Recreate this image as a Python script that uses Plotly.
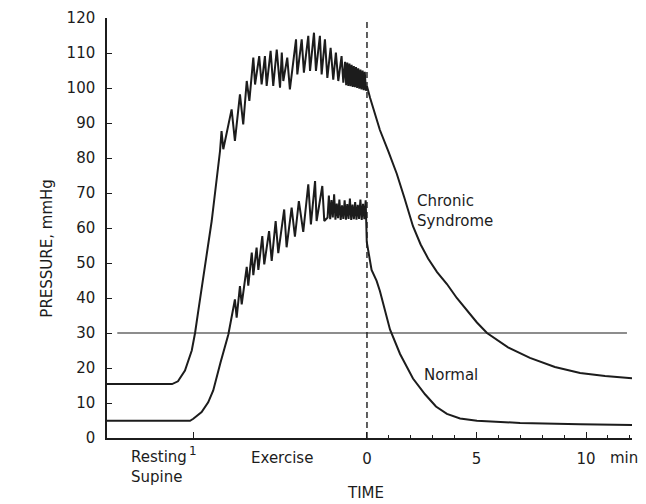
import plotly.graph_objects as go

# ---------------- data (minutes relative to end of exercise, mmHg) ----------------
chronic_t = [-11.87, -8.90, -8.63, -8.31, -8.00, -7.85, -7.70, -7.09, -6.71,
             -6.64, -6.56, -6.18, -6.03, -5.80, -5.65, -5.49, -5.37, -5.19, -5.11,
             -4.92, -4.81, -4.66, -4.58, -4.40, -4.28, -4.12, -3.97, -3.89, -3.82,
             -3.64, -3.52, -3.24, -3.18, -2.98, -2.88, -2.68, -2.60, -2.42, -2.33,
             -2.15, -2.07, -1.92, -1.81, -1.66, -1.54, -1.42, -1.31, -1.16, -1.08,
             -1.00, -0.95, -0.90, -0.85, -0.80, -0.75, -0.70, -0.65, -0.60, -0.55,
             -0.50, -0.45, -0.40, -0.35, -0.30, -0.25, -0.20, -0.15, -0.10, -0.05,
             0.00, 0.14, 0.29, 0.59, 0.98, 1.36, 1.70, 1.96, 2.10, 2.45, 2.79, 3.20,
             3.65, 4.10, 4.57, 5.02, 5.48, 6.44, 7.44, 8.58, 9.73, 10.87, 12.10]
chronic_p = [15.4, 15.4, 16.2, 19.3, 25.0, 30.0, 36.4, 62.0, 82.0,
             87.7, 82.5, 93.9, 84.9, 98.2, 89.6, 102.0, 96.3, 108.7, 101.0,
             109.1, 101.0, 109.1, 100.6, 110.6, 100.6, 111.0, 100.1, 110.1, 102.0,
             108.7, 99.6, 113.9, 103.9, 113.9, 104.4, 114.9, 104.9, 115.8, 104.9,
             114.9, 103.9, 113.9, 102.9, 111.5, 102.4, 110.1, 102.0, 109.1, 101.5,
             107.5, 100.8, 107.3, 100.6, 107.0, 100.5, 106.6, 100.3, 106.3, 100.2,
             106.0, 100.0, 105.6, 99.8, 105.3, 99.6, 105.0, 99.4, 104.6, 99.2,
             100.5, 97.2, 93.9, 88.0, 81.8, 75.5, 68.8, 63.5, 60.5, 55.3, 51.3, 47.4,
             44.0, 40.0, 36.3, 33.0, 30.0, 25.9, 22.9, 20.3, 18.6, 17.7, 17.1]

normal_t = [-11.87, -8.08, -7.93, -7.55, -7.25, -7.02, -6.69, -6.33, -6.10,
            -6.03, -5.95, -5.80, -5.72, -5.49, -5.42, -5.26, -5.19, -5.04, -4.96,
            -4.78, -4.69, -4.47, -4.35, -4.17, -4.05, -3.78, -3.67, -3.44, -3.29,
            -3.11, -2.91, -2.68, -2.56, -2.37, -2.30, -2.04, -1.95,
            -1.80, -1.74, -1.68, -1.62, -1.56, -1.50, -1.44, -1.38, -1.32, -1.26,
            -1.20, -1.14, -1.08, -1.02, -0.96, -0.90, -0.84, -0.78, -0.72, -0.66,
            -0.60, -0.54, -0.48, -0.42, -0.36, -0.30, -0.24, -0.18, -0.12, -0.06,
            -0.01, 0.21, 0.44, 0.59, 1.05, 1.51, 2.10, 2.65, 3.15, 3.65, 4.25,
            5.02, 6.99, 9.73, 12.10]
normal_p = [4.9, 4.9, 5.5, 7.4, 10.2, 13.6, 21.5, 29.6, 37.2,
            39.6, 34.4, 43.4, 38.2, 48.9, 43.5, 53.0, 46.5, 54.4, 48.0,
            57.7, 49.6, 59.1, 50.6, 62.0, 52.8, 65.3, 54.5, 65.8, 57.5,
            67.7, 58.9, 72.5, 61.0, 73.4, 62.0, 72.0, 62.0,
            63.0, 69.3, 62.5, 68.0, 63.0, 69.6, 62.4, 67.0, 62.8, 68.1,
            62.3, 66.5, 62.6, 67.9, 62.4, 66.8, 62.6, 68.4, 62.3, 66.7,
            62.5, 67.4, 62.4, 66.6, 62.6, 68.1, 62.3, 66.9, 62.5, 67.9,
            56.0, 48.0, 44.9, 42.0, 31.0, 24.0, 17.0, 12.5, 9.0, 6.9, 5.6,
            4.9, 4.3, 3.9, 3.7]

ref_level = 30
ref_span = [-11.4, 11.87]
zero_line_span = [0, 120]

x_tickvals = [0, 5, 10]
x_ticktext = ["0", "5", "10"]
x_minor_ticks = [1, 2, 3, 4, 6, 7, 8, 9, 11, 12]
exercise_start = -7.94
y_ticks = list(range(0, 121, 10))

INK = "#1c1c1c"
FONT = "DejaVu Sans"

fig = go.Figure()

fig.add_trace(go.Scatter(x=ref_span, y=[ref_level, ref_level], mode="lines",
                         line=dict(color=INK, width=1.1), hoverinfo="skip"))
fig.add_trace(go.Scatter(x=[0, 0], y=zero_line_span, mode="lines",
                         line=dict(color=INK, width=1.4, dash="6px,4px"), hoverinfo="skip"))
fig.add_trace(go.Scatter(x=chronic_t, y=chronic_p, mode="lines", name="Chronic Syndrome",
                         line=dict(color=INK, width=2)))
fig.add_trace(go.Scatter(x=normal_t, y=normal_p, mode="lines", name="Normal",
                         line=dict(color=INK, width=2)))

# page body has an 8px margin: figure is shrunk by 8px so it fits the 646x504 window
fig.update_layout(
    width=638, height=496,
    margin=dict(l=99, r=14, t=10, b=66),
    paper_bgcolor="white", plot_bgcolor="white",
    showlegend=False,
    font=dict(family=FONT, size=15, color=INK),
)
fig.update_xaxes(
    range=[-11.87, 12.1], showgrid=False, zeroline=False, automargin=False,
    showline=True, linecolor=INK, linewidth=1.5,
    tickmode="array", tickvals=[exercise_start] + x_tickvals, ticktext=[""] + x_ticktext,
    ticks="inside", ticklen=6, tickwidth=1.3, tickcolor=INK,
    ticklabelstandoff=6,
    minor=dict(tickmode="array", tickvals=x_minor_ticks, ticks="inside", ticklen=3,
               tickwidth=1.2, tickcolor=INK, showgrid=False),
)
fig.update_yaxes(
    range=[0, 120], showgrid=False, zeroline=False, automargin=False,
    showline=True, linecolor=INK, linewidth=1.5,
    tickmode="array", tickvals=y_ticks,
    ticks="inside", ticklen=5, tickwidth=1.3, tickcolor=INK,
    ticklabelstandoff=7,
)

ann = dict(showarrow=False, font=dict(family=FONT, size=15, color=INK))
fig.add_annotation(text="PRESSURE, mmHg", xref="paper", yref="paper",
                   x=-0.115, y=0.45, textangle=-90, xanchor="center", yanchor="middle", **ann)
fig.add_annotation(text="Resting<br>Supine", xref="x", yref="paper", x=-10.87, y=-0.068,
                   xanchor="left", yanchor="middle", align="left", **ann)
fig.add_annotation(text="1", xref="x", yref="paper", x=exercise_start, y=-0.032,
                   xanchor="center", yanchor="middle", showarrow=False,
                   font=dict(family=FONT, size=12, color=INK))
fig.add_annotation(text="Exercise", xref="x", yref="paper", x=-3.90, y=-0.048,
                   xanchor="center", yanchor="middle", **ann)
fig.add_annotation(text="min.", xref="x", yref="paper", x=11.0, y=-0.048,
                   xanchor="left", yanchor="middle", **ann)
fig.add_annotation(text="TIME", xref="x", yref="paper", x=-0.05, y=-0.132,
                   xanchor="center", yanchor="middle", **ann)
fig.add_annotation(text="Chronic<br>Syndrome", xref="x", yref="y", x=2.19, y=64.9,
                   xanchor="left", yanchor="middle", align="left", **ann)
fig.add_annotation(text="Normal", xref="x", yref="y", x=2.51, y=17.9,
                   xanchor="left", yanchor="middle", **ann)

fig.write_html("out.html")
